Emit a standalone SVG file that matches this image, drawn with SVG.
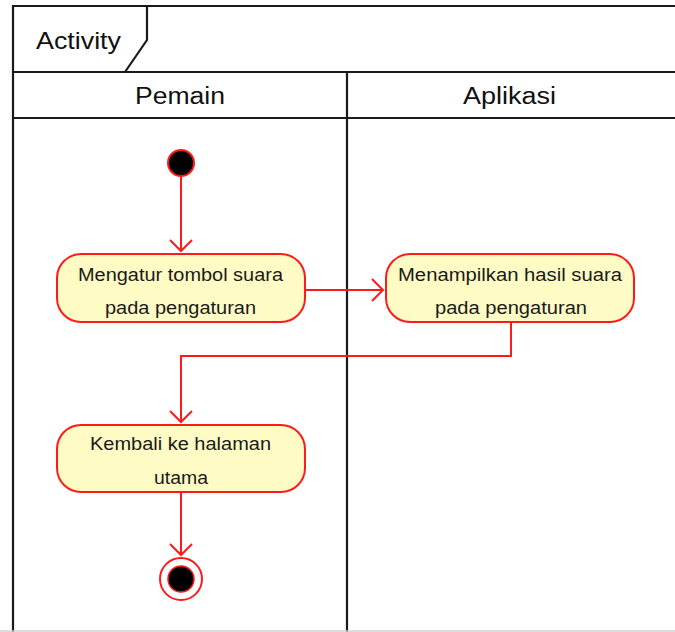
<svg xmlns="http://www.w3.org/2000/svg" width="675" height="632" viewBox="0 0 675 632">
  <style>
    .frame { fill: none; stroke: #1a1a1a; stroke-width: 2.2; }
    .lane-title { font-family: "Liberation Sans", Arial, sans-serif; font-size: 23px; fill: #111; text-anchor: middle; }
    .action { fill: #fffbc4; stroke: #ff1a1a; stroke-width: 2; }
    .label { font-family: "Liberation Sans", Arial, sans-serif; font-size: 17.5px; fill: #1a1a1a; text-anchor: middle; }
    .flow { fill: none; stroke: #ff1a1a; stroke-width: 2; }
  </style>
  <defs>
    <marker id="open" markerWidth="24" markerHeight="24" refX="12" refY="12" orient="auto" markerUnits="userSpaceOnUse">
      <path d="M1,1 L12,12 L1,23" fill="none" stroke="#ff1a1a" stroke-width="2"/>
    </marker>
  </defs>

  <rect width="675" height="632" fill="#ffffff"/>

  <!-- frame and swimlanes -->
  <g id="frame">
    <path class="frame" d="M675,6 H13 V632"/>
    <path class="frame" d="M13,72 H675"/>
    <path class="frame" d="M13,118 H675"/>
    <path class="frame" d="M347,72 V632"/>
    <path class="frame" d="M147,6 V40 L125,72"/>
    <line x1="0" y1="631" x2="675" y2="631" stroke="#d0d0d0" stroke-width="1.5"/>
    <text class="lane-title" x="78.5" y="49" style="font-size:24px" textLength="85" lengthAdjust="spacingAndGlyphs">Activity</text>
    <text class="lane-title" x="180" y="104" textLength="90" lengthAdjust="spacingAndGlyphs">Pemain</text>
    <text class="lane-title" x="509.5" y="104" textLength="93" lengthAdjust="spacingAndGlyphs">Aplikasi</text>
  </g>

  <!-- connectors -->
  <g id="connectors">
    <path class="flow" d="M181,176 V251" marker-end="url(#open)"/>
    <path class="flow" d="M305,290 H383" marker-end="url(#open)"/>
    <path class="flow" d="M511,322 V356 H181 V422" marker-end="url(#open)"/>
    <path class="flow" d="M181,492 V555" marker-end="url(#open)"/>
  </g>

  <g id="start">
    <circle cx="181" cy="163" r="13" fill="#000" stroke="#ff1a1a" stroke-width="2"/>
  </g>

  <g id="mengatur">
    <rect class="action" x="57" y="254" width="248" height="68" rx="24"/>
    <text class="label" x="180.5" y="281" textLength="205" lengthAdjust="spacingAndGlyphs">Mengatur tombol suara</text>
    <text class="label" x="180.5" y="314" textLength="151" lengthAdjust="spacingAndGlyphs">pada pengaturan</text>
  </g>

  <g id="menampilkan">
    <rect class="action" x="386" y="254" width="248" height="68" rx="24"/>
    <text class="label" x="510" y="281" textLength="224" lengthAdjust="spacingAndGlyphs">Menampilkan hasil suara</text>
    <text class="label" x="511" y="314" textLength="152" lengthAdjust="spacingAndGlyphs">pada pengaturan</text>
  </g>

  <g id="kembali">
    <rect class="action" x="57" y="425" width="248" height="67" rx="24"/>
    <text class="label" x="180.5" y="450" textLength="181" lengthAdjust="spacingAndGlyphs">Kembali ke halaman</text>
    <text class="label" x="181" y="484" textLength="54" lengthAdjust="spacingAndGlyphs">utama</text>
  </g>

  <g id="end">
    <circle cx="181" cy="579" r="21" fill="#fff" stroke="#ff1a1a" stroke-width="2"/>
    <circle cx="181" cy="579" r="13" fill="#000" stroke="#ff1a1a" stroke-width="1.5"/>
  </g>
</svg>
